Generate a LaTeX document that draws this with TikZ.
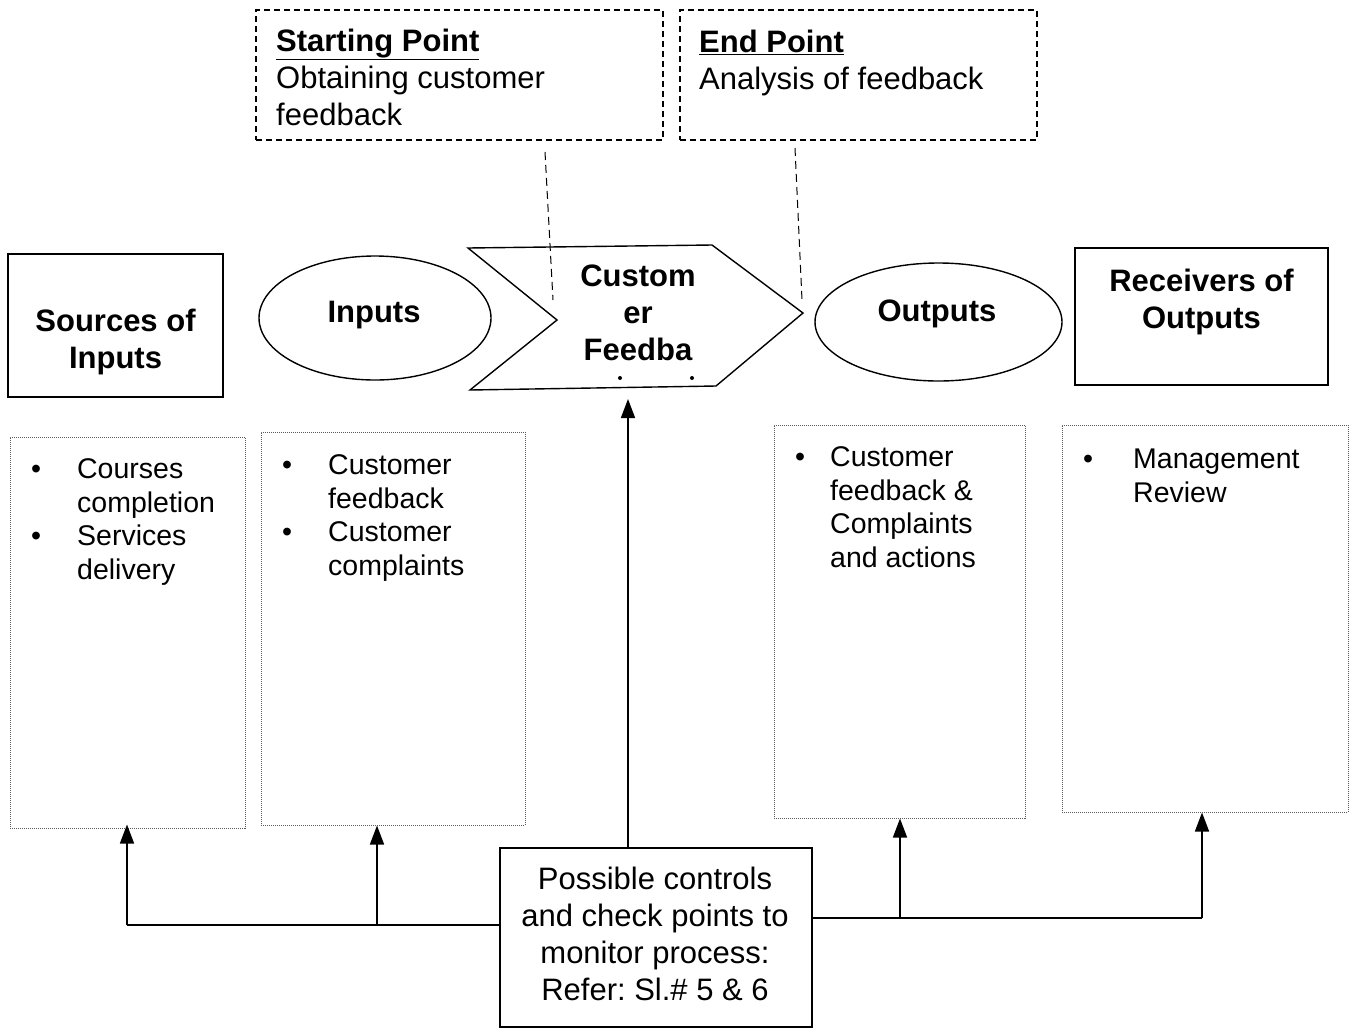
\documentclass[tikz,border=0pt]{standalone}
\usepackage{fontspec}
\setmainfont{Liberation Sans}
\usetikzlibrary{arrows.meta,shapes.geometric}
\frenchspacing
\begin{document}
\begin{tikzpicture}[x=1pt,y=-1pt,
  solidbox/.style={draw, line width=1.4pt, rectangle, inner sep=0pt},
  notebox/.style={draw, line width=1.1pt, dash pattern=on 6pt off 4pt, inner sep=0pt},
  listbox/.style={draw=black!65, line width=1pt, dash pattern=on 1pt off 1pt, inner sep=0pt},
  oval/.style={draw, ellipse, line width=1.4pt, inner sep=0pt},
  head/.style={font=\fontsize{31}{37}\selectfont\bfseries, align=center, inner sep=0pt},
  note/.style={font=\fontsize{31}{37}\selectfont, align=left, inner sep=0pt, anchor=north west},
  body/.style={font=\fontsize{28.5}{33.5}\selectfont, inner sep=0pt, anchor=north west},
  link/.style={line width=1.4pt},
  leader/.style={line width=1pt, dash pattern=on 8pt off 5pt},
  arr/.style={line width=1.6pt, -{Triangle[length=19pt,width=14pt]}},
  ]
\useasboundingbox (0,0) rectangle (1352,1029);

% start / end notes
\node[notebox, minimum width=407pt, minimum height=130pt] (start) at (459.5,75) {};
\node[note] (starttxt) at (276,29) {\textbf{\underline{Starting Point}}\\Obtaining customer\\feedback};
\node[notebox, minimum width=357pt, minimum height=130pt] (end) at (858.5,75) {};
\node[note] (endtxt) at (699,30) {\textbf{\underline{End Point}}\\Analysis of feedback};

% process row
\node[solidbox, minimum width=215pt, minimum height=143pt] (src) at (115.5,325.5) {};
\node[head] (srctxt) at (115.5,342) {Sources of\\Inputs};

\node[oval, minimum width=232pt, minimum height=124pt] (in) at (375,318) {};
\node[head] (intxt) at (374,315) {Inputs};

\coordinate (c1) at (468,248);
\coordinate (c2) at (712,245);
\coordinate (c3) at (803,313);
\coordinate (c4) at (716,386);
\coordinate (c5) at (470,390);
\coordinate (c6) at (557,320);
\draw[line width=1.4pt, line join=miter] (c1) -- (c2) -- (c3) -- (c4) -- (c5) -- (c6) -- cycle;
\node[head] (proc) at (638,313) {Custom\\er\\Feedba};
\fill (620,378) circle (2pt) (692,378) circle (2pt);

\node[oval, minimum width=247pt, minimum height=118pt] (out) at (938.5,322) {};
\node[head] (outtxt) at (937,314) {Outputs};

\node[solidbox, minimum width=253pt, minimum height=137pt] (recv) at (1201.5,316.5) {};
\node[head] (recvtxt) at (1201.5,301.5) {Receivers of\\Outputs};

% leaders from the notes
\coordinate (sa) at (545,152);
\coordinate (sb) at (553,300);
\coordinate (ea) at (795,148);
\coordinate (eb) at (802,300);
\draw[leader] (sa) -- (sb);
\draw[leader] (ea) -- (eb);

% detail boxes
\node[listbox, minimum width=235pt, minimum height=391pt] (l1) at (127.5,632.5) {};
\node[body] (l1txt) at (31,455) {\begin{tabular}{@{}p{46pt}@{}l@{}}\textbullet & Courses\\ & completion\\ \textbullet & Services\\ & delivery\end{tabular}};
\node[listbox, minimum width=264pt, minimum height=393pt] (l2) at (393,628.5) {};
\node[body] (l2txt) at (282,451) {\begin{tabular}{@{}p{46pt}@{}l@{}}\textbullet & Customer\\ & feedback\\ \textbullet & Customer\\ & complaints\end{tabular}};
\node[listbox, minimum width=251pt, minimum height=393pt] (l3) at (899.5,621.5) {};
\node[body] (l3txt) at (795,443) {\begin{tabular}{@{}p{35pt}@{}l@{}}\textbullet & Customer\\ & feedback \&\\ & Complaints\\ & and actions\end{tabular}};
\node[listbox, minimum width=286pt, minimum height=387pt] (l4) at (1205,618.5) {};
\node[body] (l4txt) at (1083,445) {\begin{tabular}{@{}p{50pt}@{}l@{}}\textbullet & Management\\ & Review\end{tabular}};

% controls
\node[solidbox, minimum width=312pt, minimum height=179pt] (ctrl) at (656,937.5) {};
\node[font=\fontsize{31}{37}\selectfont, align=center, inner sep=0pt] (ctrltxt) at (655,933.5) {Possible controls\\and check points to\\monitor process:\\Refer: Sl.\# 5 \& 6};

\coordinate (j1) at (127,925);
\coordinate (j2) at (377,925);
\coordinate (j3) at (900,918);
\coordinate (j4) at (1202,918);
\coordinate (chevin) at (628,399);
\draw[link] (ctrl.west |- j1) -- (j1);
\draw[link] (ctrl.east |- j4) -- (j4);
\draw[arr, shorten >=-4pt] (j1) -- (j1 |- l1.south);
\draw[arr] (j2) -- (j2 |- l2.south);
\draw[arr] (j3) -- (j3 |- l3.south);
\draw[arr] (j4) -- (j4 |- l4.south);
\draw[arr] (chevin |- ctrl.north) -- (chevin);
\end{tikzpicture}
\end{document}
